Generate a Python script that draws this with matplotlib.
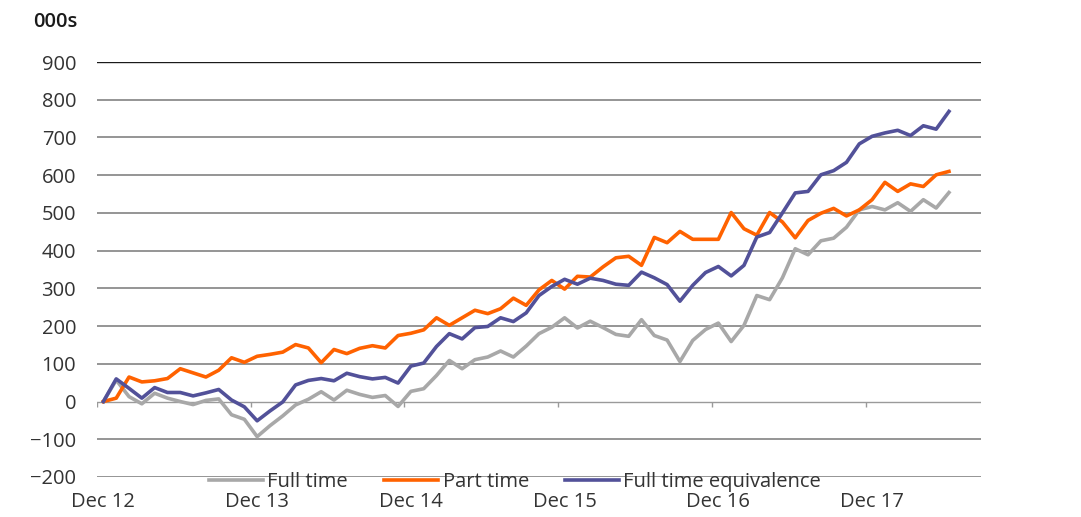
import matplotlib
matplotlib.use("Agg")
import matplotlib.pyplot as plt
import numpy as np
import pandas as pd

# cumulative change in employment since Dec 2012, thousands
months = pd.date_range("2012-12-01", periods=69, freq="MS")

full_time = [0, 57, 13, -6, 22, 9, 0, -8, 3, 7, -35, -47, -93, -64, -38, -9,
             6, 26, 4, 30, 19, 11, 16, -13, 27, 34, 69, 109, 87, 111, 118,
             134, 118, 147, 180, 197, 222, 195, 213, 196, 178, 173, 217, 175,
             163, 106, 162, 191, 208, 159, 202, 281, 270, 328, 405, 389, 426,
             433, 462, 508, 517, 508, 527, 504, 535, 513, 554]

part_time = [0, 9, 65, 52, 55, 61, 87, 76, 65, 83, 116, 104, 120, 125, 131,
             151, 142, 103, 138, 127, 141, 148, 142, 175, 181, 190, 222, 202,
             222, 242, 233, 246, 274, 255, 296, 321, 298, 332, 330, 357, 381,
             385, 361, 435, 421, 451, 430, 430, 430, 501, 458, 441, 501, 476,
             434, 480, 499, 512, 492, 508, 535, 581, 557, 577, 570, 601, 610]

fte = [0, 60, 35, 9, 37, 24, 24, 15, 23, 32, 4, -14, -51, -25, -1, 44, 56,
       61, 55, 75, 66, 60, 64, 49, 94, 102, 146, 180, 166, 196, 199, 222,
       212, 235, 281, 305, 324, 311, 327, 321, 311, 308, 343, 328, 310, 266,
       308, 342, 358, 333, 361, 436, 448, 500, 553, 557, 601, 612, 634, 683,
       703, 712, 719, 705, 731, 722, 769]

tick_labels = ["Dec 12", "Dec 13", "Dec 14", "Dec 15", "Dec 16", "Dec 17"]

plt.rcParams["font.family"] = ["Open Sans", "DejaVu Sans"]
FS = 14.5

fig = plt.figure(figsize=(10.81, 5.17), dpi=100)
ax = fig.add_axes([97 / 1081, 1 - 477 / 517, 884 / 1081, 415 / 517])

x = np.arange(len(months))
ax.set_xlim(-0.5, len(months) - 0.5)
ax.set_ylim(-200, 900)

# horizontal gridlines, the top one a touch darker
for v in range(-200, 900, 100):
    if v == 0:
        continue
    ax.axhline(v, color="#8c8c8c", lw=1.3, zorder=1)
ax.axhline(900, color="#1a1a1a", lw=1.0, zorder=1)

# category axis sits on zero, with ticks between years
ax.axhline(0, color="#9a9a9a", lw=1.0, zorder=1)
boundaries = np.arange(-0.5, len(months) - 1, 12)
ax.vlines(boundaries, -15, 0, color="#9a9a9a", lw=1.0, zorder=1)

n = len(full_time)
ax.plot(x[:n], full_time, color="#a8a8a8", lw=2.6, label="Full time",
        zorder=3, solid_joinstyle="round")
ax.plot(x[:n], part_time, color="#ff6200", lw=2.6, label="Part time",
        zorder=4, solid_joinstyle="round")
ax.plot(x[:n], fte, color="#525199", lw=2.6,
        label="Full time equivalence", zorder=5, solid_joinstyle="round")

ax.set_yticks(range(-200, 1000, 100))
ax.set_xticks(x[::12][:len(tick_labels)], tick_labels)
ax.tick_params(axis="y", length=0, pad=15, labelsize=FS, labelcolor="#333333")
ax.tick_params(axis="x", length=0, pad=11, labelsize=FS, labelcolor="#333333")
for s in ax.spines.values():
    s.set_visible(False)

fig.text(33 / 1081, 1 - 22 / 517, "000s", fontsize=FS, color="#1a1a1a",
         va="center", ha="left", fontweight="semibold")

fig.legend(loc="center", bbox_to_anchor=(515 / 1081, 1 - 482 / 517),
           ncol=3, frameon=False, fontsize=FS, handlelength=2.7,
           handletextpad=0.2, columnspacing=1.8, labelcolor="#333333")

fig.savefig("out.png", dpi=100)
